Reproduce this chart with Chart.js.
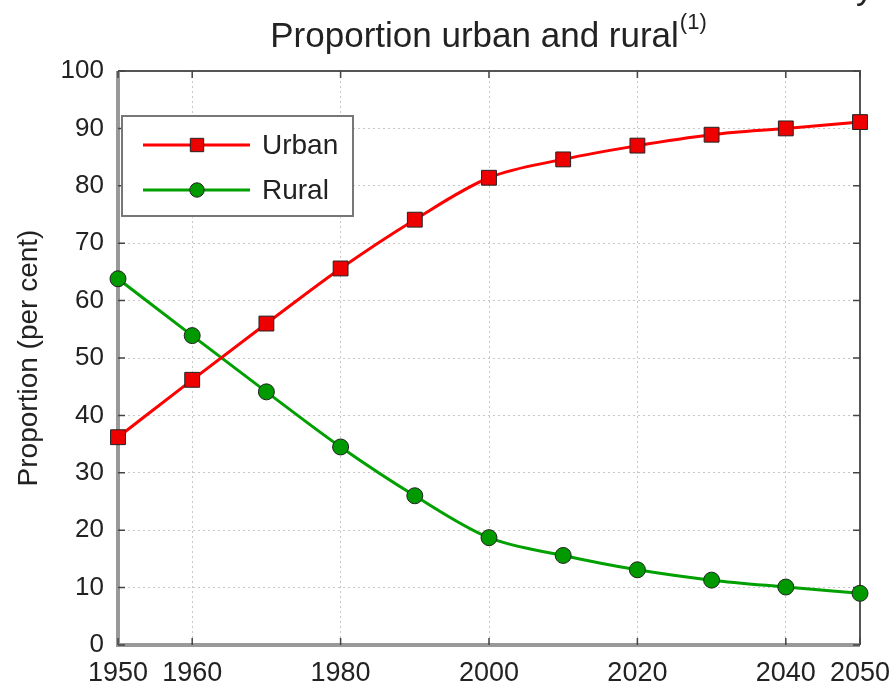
<!DOCTYPE html>
<html>
<head>
<meta charset="utf-8">
<script src="https://cdn.jsdelivr.net/npm/chart.js@4"></script>
<style>
  html, body { margin: 0; padding: 0; background: #fff; }
  #wrap { width: 894px; height: 688px; }
</style>
</head>
<body>
<div id="wrap"><canvas id="line-chart" width="894" height="688"></canvas></div>
<script>
// data
const years = [1950, 1960, 1970, 1980, 1990, 2000, 2010, 2020, 2030, 2040, 2050];
const urban = [36.2, 46.2, 56.0, 65.6, 74.1, 81.4, 84.6, 87.0, 88.9, 90.0, 91.1];
const rural = [63.8, 53.9, 44.1, 34.5, 26.0, 18.7, 15.6, 13.1, 11.3, 10.1, 9.0];
const xTicks = [1950, 1960, 1980, 2000, 2020, 2040, 2050];
const yTicks = [0, 10, 20, 30, 40, 50, 60, 70, 80, 90, 100];

const FONT = "'Liberation Sans', Arial, sans-serif";

// frame, inner ticks, title, legend
const decor = {
    id: "decor",
    beforeDatasetsDraw(chart) {
        const { ctx, chartArea: a, scales } = chart;
        ctx.save();
        // top + right
        ctx.strokeStyle = "#555";
        ctx.lineWidth = 2;
        ctx.beginPath();
        ctx.moveTo(a.left, a.top);
        ctx.lineTo(a.right, a.top);
        ctx.lineTo(a.right, a.bottom);
        ctx.stroke();
        // left + bottom
        ctx.strokeStyle = "#999";
        ctx.lineWidth = 4;
        ctx.beginPath();
        ctx.moveTo(a.left, a.top);
        ctx.lineTo(a.left, a.bottom);
        ctx.lineTo(a.right, a.bottom);
        ctx.stroke();
        // inside ticks
        ctx.strokeStyle = "#444";
        ctx.lineWidth = 1.5;
        ctx.beginPath();
        xTicks.forEach((v) => {
            const x = scales.x.getPixelForValue(v);
            ctx.moveTo(x, a.bottom); ctx.lineTo(x, a.bottom - 7);
            ctx.moveTo(x, a.top); ctx.lineTo(x, a.top + 7);
        });
        yTicks.forEach((v) => {
            const y = scales.y.getPixelForValue(v);
            ctx.moveTo(a.left, y); ctx.lineTo(a.left + 7, y);
            ctx.moveTo(a.right, y); ctx.lineTo(a.right - 7, y);
        });
        ctx.stroke();
        ctx.restore();
    },
    afterDraw(chart) {
        const { ctx } = chart;
        ctx.save();
        // title
        ctx.fillStyle = "#222";
        ctx.textBaseline = "alphabetic";
        const t = "Proportion urban and rural";
        ctx.font = "35px " + FONT;
        const tw = ctx.measureText(t).width;
        ctx.font = "22px " + FONT;
        const sw = ctx.measureText("(1)").width;
        const x0 = 488 - (tw + sw) / 2;
        ctx.font = "35px " + FONT;
        ctx.textAlign = "left";
        ctx.fillText(t, x0, 47);
        ctx.font = "22px " + FONT;
        ctx.fillText("(1)", x0 + tw + 1, 29);
        // cut-off line above
        ctx.font = "35px " + FONT;
        ctx.fillText("y", 856, -1);

        // legend
        const lx = 122, ly = 116, lw = 231, lh = 100;
        ctx.fillStyle = "#fff";
        ctx.fillRect(lx, ly, lw, lh);
        ctx.strokeStyle = "#777";
        ctx.lineWidth = 2;
        ctx.strokeRect(lx, ly, lw, lh);
        const rows = [
            { label: "Urban", ds: chart.data.datasets[0], y: ly + 29 },
            { label: "Rural", ds: chart.data.datasets[1], y: ly + 74 },
        ];
        rows.forEach((r) => {
            ctx.strokeStyle = r.ds.borderColor;
            ctx.lineWidth = 3;
            ctx.beginPath();
            ctx.moveTo(lx + 21, r.y);
            ctx.lineTo(lx + 128, r.y);
            ctx.stroke();
            ctx.fillStyle = r.ds.pointBackgroundColor;
            ctx.strokeStyle = "#222";
            ctx.lineWidth = 1;
            Chart.helpers.drawPoint(ctx, {
                pointStyle: r.ds.pointStyle,
                radius: r.ds.pointRadius * 0.9,
                borderWidth: 1
            }, lx + 75, r.y);
            ctx.fillStyle = "#222";
            ctx.font = "28px " + FONT;
            ctx.textBaseline = "middle";
            ctx.fillText(r.label, lx + 140, r.y + 1);
        });
        ctx.restore();
    }
};

new Chart(document.getElementById("line-chart"), {
    type: "line",
    data: {
        datasets: [
            {
                label: "Urban",
                data: years.map((y, i) => ({ x: y, y: urban[i] })),
                borderColor: "#ff0000",
                borderWidth: 3,
                pointStyle: "rect",
                pointRadius: 10.5,
                pointBackgroundColor: "#ee0000",
                pointBorderColor: "#222",
                pointBorderWidth: 1,
                cubicInterpolationMode: "monotone",
                clip: false,
            },
            {
                label: "Rural",
                data: years.map((y, i) => ({ x: y, y: rural[i] })),
                borderColor: "#00a000",
                borderWidth: 3,
                pointStyle: "circle",
                pointRadius: 8,
                pointBackgroundColor: "#009900",
                pointBorderColor: "#222",
                pointBorderWidth: 1,
                cubicInterpolationMode: "monotone",
                clip: false,
            },
        ],
    },
    options: {
        responsive: false,
        animation: false,
        layout: { padding: { top: 71, right: 0, left: 0, bottom: 0 } },
        plugins: {
            legend: { display: false },
            tooltip: { enabled: false },
            title: { display: false },
        },
        scales: {
            x: {
                type: "linear",
                min: 1950,
                max: 2050,
                afterBuildTicks: (s) => { s.ticks = xTicks.map((v) => ({ value: v })); },
                afterFit: (s) => { s.height = 43; s.paddingRight = 34; s.paddingLeft = 0; },
                border: { display: false, dash: [2, 3] },
                grid: {
                    drawTicks: false,
                    color: (c) => (c.tick && (c.tick.value === 1950 || c.tick.value === 2050) ? "rgba(0,0,0,0)" : "#c8c8c8"),
                    lineWidth: 1,
                },
                ticks: {
                    padding: 12,
                    color: "#222",
                    font: { family: FONT, size: 27 },
                    maxRotation: 0,
                    autoSkip: false,
                    callback: (v) => String(v),
                },
            },
            y: {
                min: 0,
                max: 100,
                afterBuildTicks: (s) => { s.ticks = yTicks.map((v) => ({ value: v })); },
                afterFit: (s) => { s.width = 118; },
                border: { display: false, dash: [2, 3] },
                grid: {
                    drawTicks: false,
                    color: (c) => (c.tick && (c.tick.value === 0 || c.tick.value === 100) ? "rgba(0,0,0,0)" : "#c8c8c8"),
                    lineWidth: 1,
                },
                ticks: {
                    padding: 14,
                    color: "#222",
                    font: { family: FONT, size: 26 },
                },
                title: {
                    display: true,
                    text: "Proportion (per cent)",
                    color: "#222",
                    font: { family: FONT, size: 28 },
                    padding: { top: 12, bottom: 4 },
                },
            },
        },
    },
    plugins: [decor],
});
</script>
</body>
</html>
